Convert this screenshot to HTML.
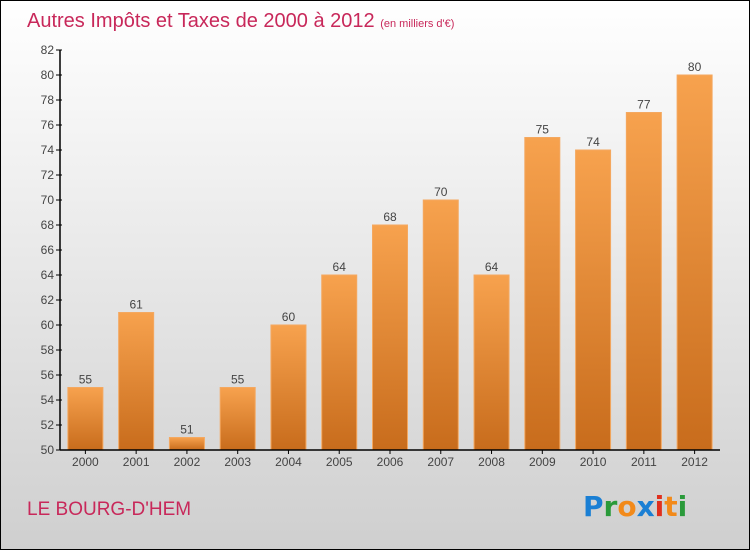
<!DOCTYPE html>
<html><head><meta charset="utf-8"><style>
body{margin:0;width:750px;height:550px;overflow:hidden;font-family:"Liberation Sans",sans-serif}
</style></head><body>
<svg width="750" height="550" xmlns="http://www.w3.org/2000/svg">
<defs>
<linearGradient id="bg" x1="0" y1="0" x2="0" y2="1"><stop offset="0" stop-color="#ffffff"/><stop offset="1" stop-color="#cfcfcf"/></linearGradient>
<linearGradient id="bar" x1="0" y1="0" x2="0" y2="1"><stop offset="0" stop-color="#f7a24e"/><stop offset="1" stop-color="#c86c1c"/></linearGradient>
</defs>
<rect x="0.5" y="0.5" width="749" height="549" fill="url(#bg)" stroke="#000"/>
<text x="27" y="27" font-size="20" fill="#c8285a">Autres Impôts et Taxes de 2000 à 2012 <tspan font-size="11">(en milliers d'€)</tspan></text>
<g id="plot"></g>
<text x="27" y="515" font-size="19" fill="#c8285a">LE BOURG-D'HEM</text>
<g font-size="28" font-weight="bold" font-family="'DejaVu Sans',sans-serif">
<text x="583" y="516"><tspan fill="#1a7fd4">P</tspan><tspan fill="#2a9a3a">r</tspan><tspan fill="#f28a1a">o</tspan><tspan fill="#1a7fd4">x</tspan><tspan fill="#e0301e">i</tspan><tspan fill="#f28a1a">t</tspan><tspan fill="#2a9a3a">i</tspan></text>
</g>
</svg>
<script>
const categories=["2000","2001","2002","2003","2004","2005","2006","2007","2008","2009","2010","2011","2012"];
const values=[55,61,51,55,60,64,68,70,64,75,74,77,80];
const yTicks=[50,52,54,56,58,60,62,64,66,68,70,72,74,76,78,80,82];
const NS="http://www.w3.org/2000/svg";
const g=document.getElementById('plot');
const x0=60,x1=720,yMin=50,yMax=82,py0=450,py1=50;
const band=(x1-x0)/categories.length;
const y=v=>py0-(v-yMin)/(yMax-yMin)*(py0-py1);
const xc=i=>x0+band*(i+0.5);
function el(t,a){const e=document.createElementNS(NS,t);for(const k in a)e.setAttribute(k,a[k]);g.appendChild(e);return e;}
values.forEach((v,i)=>{
 const r=el('rect',{x:xc(i)-17.5,y:y(v),width:35,height:py0-y(v),fill:'url(#bar)',stroke:'#f4a860','stroke-width':1});
 
 
 const t=el('text',{x:xc(i),y:y(v)-4,'text-anchor':'middle','font-size':12,fill:'#444'});
 t.textContent=v;
 
 
 const c=el('text',{x:xc(i),y:py0+16,'text-anchor':'middle','font-size':12,fill:'#444'});
 c.textContent=categories[i];
 
 
 const tk=el('line',{x1:xc(i),x2:xc(i),y1:py0,y2:py0+4,stroke:'#000'});
 
 
});
yTicks.forEach(v=>{
 const l=el('line',{x1:x0-4,x2:x0+2,y1:y(v),y2:y(v),stroke:'#000'});
 
 
 const t=el('text',{x:x0-6,y:y(v)+4,'text-anchor':'end','font-size':12,fill:'#444'});
 t.textContent=v;
 
 
});
const ya=el('line',{x1:x0,x2:x0,y1:py1,y2:py0,stroke:'#000','stroke-width':1.5});


const xa=el('line',{x1:x0,x2:x1,y1:py0,y2:py0,stroke:'#000','stroke-width':1.5});


</script>
</body></html>
